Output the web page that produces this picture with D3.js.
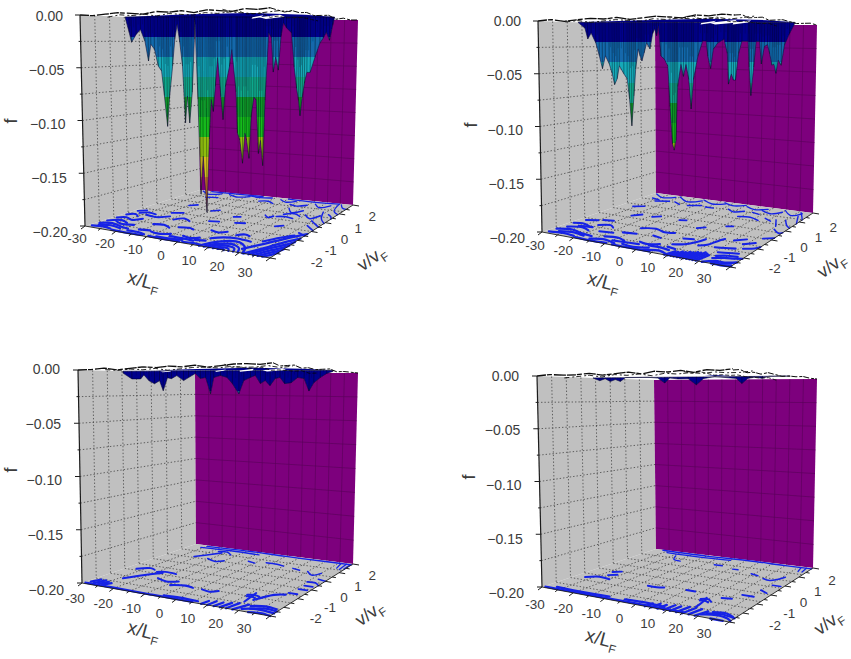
<!DOCTYPE html>
<html><head><meta charset="utf-8">
<script src="https://cdn.jsdelivr.net/npm/d3@7/dist/d3.min.js"></script>
<style>html,body{margin:0;background:#fff}svg{display:block}text{font-family:"Liberation Sans",Arial,sans-serif;fill:#3c3c3c}</style>
</head><body><svg id="c" width="851" height="659"></svg>
<script>
// ---------- axis values
const xTickLabels=[-30,-20,-10,0,10,20,30];
const vTickLabels=[-2,-1,0,1,2];
const fTickLabels=[0,-0.05,-0.10,-0.15,-0.20];
const xGrid=[-25,-20,-15,-10,-5,0,5,10,15,20,25];
const vGrid=[-2.25,-1.5,-0.75,0,0.75,1.5,2.25];
const fGrid=[-0.025,-0.05,-0.075,-0.10,-0.125,-0.15,-0.175];
const bandLevels=[0,-0.02,-0.04,-0.06,-0.08,-0.10,-0.12,-0.14,-0.16,-0.18,-0.20];
const bandColors=["#00008c","#1268ab","#14a8b8","#0ca88c","#0a9a2c","#14ba1c","#8ebe0c","#d2bc1e","#d0742c","#a04040"];

// ---------- surface silhouettes (x/LF, f)
const s1X=[-30,-29,-28.4,-27.1,-25.9,-24.7,-23.8,-23.1,-22.1,-21.1,-20.2,-19.5,-18.7,-18.1,-17.1,-16.4,-15.7,-15,-14.3,-13.6,-13,-12.4,-11.6,-10.9,-10.7,-10,-9.3,-8.6,-7.6,-6.8,-6.2,-5.6,-5,-4.3,-3.4,-2.8,-2.1,-0.9,-0.2,1,1.4,2.1,2.9,3.6,4.1,4.8,5.4,6.2,6.9,7.6,8.2,8.9,9.5,10.5,11.3,11.9,12.6,13.4,14.1,14.8,15.7,17.2,18.1,18.9,19.5,20,20.6,21.2,21.9,22.9,24.3,25.7,26.7,27.6,28.6,29.5,30];
const s1F=[-0.001,-0.016,-0.026,-0.018,-0.013,-0.025,-0.045,-0.028,-0.033,-0.05,-0.055,-0.08,-0.111,-0.083,-0.05,-0.023,-0.008,-0.026,-0.05,-0.107,-0.08,-0.107,-0.076,-0.023,-0.003,-0.083,-0.178,-0.14,-0.196,-0.123,-0.083,-0.095,-0.07,-0.041,-0.08,-0.103,-0.07,-0.05,-0.033,-0.075,-0.116,-0.123,-0.146,-0.116,-0.123,-0.141,-0.1,-0.08,-0.083,-0.136,-0.123,-0.148,-0.083,-0.016,-0.021,-0.055,-0.04,-0.053,-0.02,-0.006,-0.011,-0.016,-0.05,-0.071,-0.083,-0.098,-0.08,-0.066,-0.055,-0.055,-0.04,-0.026,-0.021,-0.015,-0.023,-0.008,-0.001];
const s2X=[-30,-28.2,-27.5,-26.6,-25.4,-24.5,-23.7,-22.9,-21.9,-21.1,-20.5,-19.8,-19.2,-18,-17.1,-16.5,-15.9,-15.3,-14.8,-14.1,-13.6,-13.1,-12.5,-11.8,-10.9,-10.2,-9.6,-9.1,-8.6,-7.9,-7,-6,-5.4,-4.7,-4.2,-3.7,-3.3,-2.4,-1.7,-1,-0.2,0.5,1.1,2.3,3.6,4.6,5.1,5.9,6.6,7.8,9.6,10.6,11,11.8,12.4,13,13.8,14.7,16.5,16.9,17.5,18.2,18.8,19.8,20.4,21.2,22.1,22.8,23.5,24.1,24.7,25.3,26.2,27.1,28.5,30];
const s2F=[0,-0.006,-0.017,-0.011,-0.021,-0.034,-0.047,-0.034,-0.042,-0.052,-0.063,-0.057,-0.044,-0.052,-0.057,-0.077,-0.104,-0.074,-0.047,-0.027,-0.034,-0.039,-0.031,-0.021,-0.027,-0.012,-0.007,-0.014,-0.004,-0.034,-0.037,-0.044,-0.084,-0.121,-0.127,-0.117,-0.064,-0.042,-0.054,-0.042,-0.057,-0.086,-0.057,-0.034,-0.019,-0.019,-0.034,-0.046,-0.027,-0.021,-0.017,-0.031,-0.061,-0.051,-0.057,-0.057,-0.031,-0.019,-0.019,-0.044,-0.072,-0.044,-0.019,-0.019,-0.041,-0.024,-0.022,-0.031,-0.042,-0.041,-0.05,-0.037,-0.042,-0.022,-0.011,-0.001];
const s3X=[-30,-27.6,-25.2,-24.3,-22.9,-21.4,-20,-19,-17.8,-16.7,-15.2,-13.3,-11.9,-10,-8.6,-7.1,-5.7,-4.8,-2.9,-1,0.5,2.4,3.8,5.7,7.1,8.6,10,11.4,12.9,14.3,15.7,17.6,19.5,21.4,22.9,24.3,26.2,28.1,30];
const s3F=[-0.002,-0.008,-0.008,-0.004,-0.01,-0.013,-0.01,-0.02,-0.007,-0.008,-0.005,-0.01,-0.007,-0.003,-0.008,-0.007,-0.023,-0.007,-0.005,-0.007,-0.013,-0.023,-0.01,-0.007,-0.005,-0.013,-0.01,-0.015,-0.008,-0.007,-0.013,-0.012,-0.007,-0.008,-0.02,-0.012,-0.007,-0.003,-0.001];
const s4X=[-30,-28,-26.4,-24.9,-23.4,-21.9,-20.3,-13.7,-10.7,-8.6,-7.1,-4.6,-1.5,1,3.1,6.6,13.2,15,16.8,18.8,21.4,23.4,30];
const s4F=[0,-0.003,-0.001,-0.004,-0.002,-0.004,0,0,-0.001,-0.006,-0.001,-0.002,-0.002,-0.008,-0.002,0,-0.002,-0.007,-0.002,-0.001,-0.002,0,0];

// ---------- top plane patches (x/LF, v/vF), holes [x, v, half width, thickness]
const top1=[[-30,-0.7],[-6,-1.5],[15,-1.5],[27,0],[30,1.4]];
const top2=[[-30,-0.95],[-6,-1.5],[15,-1.5],[27,0],[30,1.38]];
const top3=[[-20,-0.6],[-6,-1.2],[14,-1.2],[26,0],[30,1.24]];
const top4=[[8,-0.3],[12,-0.4],[14,0.2],[10,0.3]];
const holes1=[[4.6,1,1.5,1],[10,1,4.5,1.1]];
const holes2=[[0.3,1.2,2,1.2],[6.6,1.1,5,1.4],[12,1.2,2.5,1.2]];
const holes3=[[-24,0.6,1.8,0.8],[-5.5,0.6,1.2,0.9],[3.4,0.6,2.2,1],[13,0.6,4,1]];
const holes4=[];
// jagged rim of the surface: f along the v=-3 edge, and along the x=30 edge
const edgeXs=[-30,-26,-22,-18,-14,-10,-6,-2,2,6,10,14,18,22,26,30];
const edgeVs=[-3,-2.5,-2,-1.5,-1,-0.5,0,0.5,1,1.5,2,2.5,3];
const rimX1=[0,-0.001,0,0.001,0,-0.001,0.001,0,0.001,-0.001,0.001,0,-0.001,0.001,0,0.001];
const rimV1=[0.001,0,-0.001,0.001,0,0.001,-0.001,0,0.001,-0.002,0,-0.001,0];
const rimX2=[0,0.001,-0.001,0,0.001,0,0.001,-0.001,0,0.001,0,-0.001,0.001,0,0.001,0];
const rimV2=[0,0.001,-0.001,0,0.001,-0.001,0,0.001,0,-0.001,0,0.001,0];
const rimX3=[0,0,0.001,-0.001,0,0.001,0,0.001,0,0.001,-0.001,0,0.001,0.001,0,0.001];
const rimV3=[0.001,-0.001,0,0.001,-0.001,0,-0.001,0,0.001,-0.001,0,0,0];
const rimX4=[0,0.001,0,0,0.001,-0.001,0,0.001,-0.001,0.001,0,0.001,-0.001,0.001,0,0.001];
const rimV4=[0,0.001,-0.001,0,-0.001,0.001,0,-0.001,0,0,0.001,0,0];

// ---------- floor contour fragments (x/LF, v/vF)
const c1=[
[[-29,-2.8],[-26,-2.7],[-23,-2.8]],[[-29,-2.4],[-26,-2.2],[-22,-2.4],[-19,-2.5]],[[-29,-2],[-26,-1.7],[-23,-1.9]],[[-29,-1.5],[-27,-1.3],[-24,-1.5],[-22,-1.2]],[[-29,-1],[-27,-0.8],[-25,-1]],[[-29,-0.4],[-27,-0.2]],[[-24,-0.7],[-20,-0.8],[-17,-0.5]],[[-14,-0.8],[-12,-0.5],[-9,-0.7]],[[-18,-2.7],[-14,-2.7],[-12,-2.8]],[[-12,-2.4],[-9,-2.5],[-6,-2.3]],[[-8,-2.8],[-4,-2.8],[0,-2.7]],[[-2,-2.3],[1,-2.4],[3,-2.2]],
[[-28,-2.6],[-25,-2.45],[-21,-2.6]],[[-27,-1.85],[-24,-2.1],[-20,-2]],[[-22,-2.9],[-17,-2.95],[-12,-2.9]],[[-16,-2.4],[-13,-2.3]],[[-10,-2.9],[-5,-2.95],[0,-2.9]],[[-5,-2.55],[-1,-2.55],[3,-2.6]],[[1,-2.9],[4,-2.85],[7,-2.9]],[[3,-2.5],[6,-2.4]],[[-16,-1.6],[-13,-1.5],[-10,-1.7]],[[-27,-0.6],[-25,-0.4],[-22,-0.5]],
[[7,-3],[8.5,-2.5],[11,-2.15],[14,-2],[17,-2.15],[19.5,-2.5],[21,-3]],[[8.5,-3],[10,-2.6],[12,-2.4],[14,-2.3],[16,-2.4],[18,-2.6],[19.5,-3]],[[10,-3],[11,-2.7],[14,-2.55],[17,-2.7],[18,-3]],[[11.5,-3],[12.5,-2.8],[14,-2.75],[15.5,-2.8],[16.5,-3]],[[13,-3],[14,-2.9],[15,-3]],[[6,-2.1],[9,-1.8],[13,-1.7],[18,-1.8]],
[[21.5,-3],[25,-2],[28,-1.2],[30,-0.8]],[[23,-3],[26,-2.1],[28.5,-1.6],[30,-1.2]],[[24.5,-3],[27,-2.3],[29,-1.9],[30,-1.6]],[[26,-3],[28,-2.5],[29.5,-2.2],[30,-2]],[[27.5,-3],[29,-2.7],[30,-2.4]],[[19,-2.6],[22.5,-1.8],[26,-1],[30,-0.3]],[[21,-1.6],[24,-1],[27,-0.6]],
[[-8,-1.5],[-5,-1.4],[-3,-1.5]],[[2,-1.3],[5,-1.4],[7,-1.2]],[[11,-1.4],[13,-1.2],[15,-1.3]],[[0,0.4],[2,0.5]],[[8,1],[10,0.8],[11,1]],[[-10,0.7],[-8,0.9]],[[-20,1],[-18,1.2]],[[-19,-0.1],[-16,0.1]],[[-4,-0.4],[-1,-0.3]],[[4,-0.2],[7,-0.1]],[[17,0],[19,0.2]],
[[-28,2.9],[-24,2.6],[-20,2.8]],[[-22,2.2],[-18,2.3]],[[-17,2.8],[-13,2.6],[-9,2.8]],[[-10,2.9],[-5,2.8],[-1,2.9]],[[-3,2.4],[0,2.5],[3,2.3]],[[3,2.8],[6,2.6],[9,2.8]],[[11,2],[14,1.6],[17,1.9]],[[12,1],[15,1.1],[18,1]],[[17,2.7],[20,2.4],[23,2.7]],[[20,1.5],[23,1.2],[25,1.6]],[[9,2.4],[12,2.3],[15,2.5]],[[13,1.3],[16,1.5],[19,1.3]],[[-25,2.95],[-15,2.95],[-5,2.95]],[[5,2.95],[15,2.9],[25,2.95]],
[[25,2.9],[27,2.2],[30,1.9]],[[26,2.9],[28,2.6],[30,2.5]],[[24,2],[27,1.3],[30,0.9]],[[26,0.5],[28,0.3],[30,0.1]],[[27,-0.3],[30,-0.5]],[[27,1.8],[29,1.6],[30,1.4]],[[25,1],[28,0.7],[30,0.5]]
];
const c2=[
[[-29,-2.8],[-25,-2.7],[-21,-2.8]],[[-29,-2.4],[-25,-2.2],[-21,-2.4],[-17,-2.5]],[[-28,-2],[-24,-1.8],[-21,-2]],[[-29,-1.5],[-26,-1.4],[-23,-1.6]],[[-28,-1],[-25,-0.8]],[[-22,-1.3],[-19,-1.1],[-17,-1.3]],[[-16,-2.8],[-12,-2.6],[-8,-2.8]],[[-14,-2.3],[-10,-2.2],[-7,-2.4]],[[-18,-1.9],[-14,-1.8]],[[-6,-2.7],[-2,-2.8],[2,-2.6]],[[-3,-2.2],[0,-2.3],[3,-2.1]],[[2,-2.9],[6,-2.7],[9,-2.9]],[[6,-2.2],[9,-2.3]],
[[-27,-2.6],[-23,-2.45],[-19,-2.6]],[[-26,-1.7],[-22,-1.6]],[[-20,-2.9],[-15,-2.95],[-10,-2.9]],[[-10,-2.55],[-6,-2.5],[-2,-2.45]],[[-8,-2.95],[-2,-2.95],[4,-2.95]],[[1,-2.4],[5,-2.4],[8,-2.5]],[[-24,-0.7],[-21,-0.6]],[[-12,-1.6],[-8,-1.5]],
[[-10,-0.9],[-6,-0.7],[-2,-0.9],[1,-0.8]],[[-3,-1.4],[0,-1.5]],[[6,-1.2],[9,-1.1]],
[[9,-3],[10,-2.5]],[[11,-3],[12,-2.4]],[[13,-3],[14,-2.3]],[[15,-3],[16,-2.2]],[[17,-3],[18,-2.1]],[[19,-3],[20,-2.3]],[[10,-3],[11,-2.5]],[[12,-3],[13,-2.4]],[[14,-3],[15,-2.3]],[[16,-3],[17,-2.2]],[[18,-3],[19,-2.2]],
[[6,-1.9],[9,-1.7],[11,-1.3],[12,-0.9]],[[13,-1.6],[15,-1.4],[16,-0.9],[17,-0.6]],[[21,-3],[24,-2.7],[27,-2.7],[30,-2.5]],[[22,-2.5],[25,-2.3],[28,-2.2],[30,-2.1]],[[24,-3],[27,-3],[30,-2.9]],[[21,-1.9],[24,-1.8],[27,-1.7]],[[26,-1.2],[29,-1],[30,-0.8]],[[24,-0.8],[27,-0.5]],[[27,0],[30,0.2]],[[23,-2.85],[26,-2.85],[29,-2.7]],[[22,-2.25],[25,-2.05],[28,-2]],[[18,-1.5],[21,-1.4],[24,-1.3]],[[20,-0.6],[23,-0.3]],
[[-29,2.9],[-25,2.6],[-21,2.8]],[[-24,2.1],[-20,2.3]],[[-20,2.9],[-15,2.5],[-11,2.8]],[[-12,2.1],[-8,2.3]],[[-11,2.9],[-6,2.6],[-2,2.8]],[[-3,2.9],[1,2.7],[5,2.9]],[[2,2.3],[5,2.1],[8,2.3]],[[6,2.8],[10,2.6],[14,2.8]],[[9,1.7],[13,1.8],[17,1.6]],[[13,2.6],[17,2.4],[20,2.7]],[[18,1.9],[21,1.7]],[[20,2.9],[24,2.5],[27,2.8]],[[25,2],[28,1.5],[30,1.3]],[[26,2.9],[29,2.4],[30,2.2]],[[26,1],[29,0.7],[30,0.8]],[[-27,2.4],[-24,2.3]],[[-18,2.3],[-15,2.1]],[[-6,2.2],[-3,2.2]],[[11,2.3],[14,2.2]],[[22,1.9],[25,1.3]],[[27,2.5],[30,1.8]],
[[-5,0.5],[-3,0.6]],[[4,0],[6,0.2]],[[-14,0.4],[-12,0.6]],[[-20,0.2],[-18,0.5]],[[-26,1.2],[-23,1.4]],[[11,0.6],[13,0.7]]
];
const c3=[
[[-29.5,-2.9],[-20,-2.9],[-8,-2.95],[5,-2.95]],[[-29,-2.7],[-28,-2.3]],[[-27.5,-2.8],[-26.5,-2.3]],[[-26,-2.8],[-25,-2.4]],[[-24.5,-2.8],[-23.5,-2.5]],[[-5,-2.8],[0,-2.75],[6,-2.8]],
[[-24,-1.8],[-21,-1.1],[-18,-0.6]],[[-27,-0.6],[-24,-0.3],[-22,-0.4]],[[-16,-1.2],[-12,-1.4],[-9,-1.2]],[[-9,-1.7],[-5,-1.5],[-2,-1.6]],[[1,-1.6],[4,-1.7],[6,-1.5]],[[-20,-0.6],[-18,-0.45],[-14,-0.5]],
[[8,-3],[8.5,-2.6]],[[10,-3],[10.5,-2.5]],[[12,-3],[12.7,-2.5]],[[14,-3],[15,-2.4]],[[16,-3],[17,-2.3]],[[18,-3],[20,-2.3]],[[20,-2.8],[23,-2.6],[26,-2.6],[30,-2.7]],[[21,-2.4],[25,-2.2],[29,-2.3]],[[23,-3],[27,-2.9],[30,-3]],[[22,-2.65],[26,-2.4],[30,-2.5]],
[[15,-1.4],[17,-1.3],[19,-1.4]],[[15.5,-1.55],[17,-1.5],[18.5,-1.6]],[[16.5,-1.1],[17,-1.6],[17.5,-2.1]],[[19,-1.8],[22,-1],[25,-0.8]],[[25,-0.6],[28,-0.6]],[[26,-0.1],[29,-0.1]],[[25,0.7],[28,0.7],[30,0.5]],[[27,1.1],[30,1]],[[26,0.3],[29,0.3]],
[[-21,1.6],[-19,1.9],[-16,2.4]],[[-16,1.6],[-12,1.4],[-10,1.6]],[[-3,1.9],[0,1.8]],[[3,2],[7,2],[10,1.9]],[[14,1.8],[17,1.7]],[[20,1.7],[23,1.4],[25,1.7]],[[-25,2.9],[-10,2.95],[5,2.9],[20,2.9],[30,2.9]],[[26,2.9],[27,2.4]],[[28,2.9],[28.5,2.3]],[[29.5,2.9],[29.7,2.4]],[[-26,2.7],[-15,2.75],[-4,2.7]],[[-18,2.5],[-15,2.55],[-12,2.3]]
];
const c4=[
[[-29.5,-2.9],[-22,-2.9],[-12,-2.9],[0,-2.9],[15,-2.9]],[[-27,-2.7],[-20,-2.75],[-10,-2.7]],[[-5,-2.7],[2,-2.65],[8,-2.75]],
[[3,-3],[3.5,-2.6]],[[5,-3],[5.5,-2.5]],[[7,-3],[7.5,-2.5]],[[9,-3],[9.7,-2.4]],[[11,-3],[11.7,-2.4]],[[13,-3],[14,-2.3]],[[15,-3],[16,-2.3]],[[17,-3],[18,-2.3]],[[19,-3],[20.5,-2.4]],[[20,-2.8],[24,-2.6],[28,-2.7],[30,-2.9]],[[22,-2.4],[26,-2.3],[29,-2.5]],[[24,-3],[28,-3]],[[21,-2.6],[25,-2.45],[30,-2.6]],
[[13,-1.4],[15,-1.3],[17,-1.5]],[[13.5,-1.55],[15,-1.5],[16.5,-1.6]],[[14,-1.2],[15,-1.7],[15.5,-2.2]],[[-27,-1.2],[-24,-0.9],[-20,-1]],[[-24,-0.2],[-22,0]],[[-23,-0.6],[-21,-0.4]],[[-7,-1],[-4,-1],[-2,-0.9]],[[5,-0.8],[8,-0.8]],
[[18,-1],[21,-0.9]],[[22,-0.4],[26,-0.4]],[[25,0.3],[28,0.1]],[[26,0.9],[29,0.9]],
[[-19,2.5],[-17,2.1],[-14,2]],[[-2,2.1],[1,2.1]],[[6,1.9],[8,1.9]],[[14,1.7],[17,1.6]],[[20,1.4],[23,1.3],[26,1.8]],
[[-27,2.95],[-10,2.9],[5,2.95],[20,2.9],[30,2.9]],[[26,2.9],[27,2.5]],[[28,2.9],[28.5,2.5]],[[-24,2.75],[-12,2.7],[0,2.75]]
];

// ---------- layout of each panel (screen geometry; not data)
const panels=[
 {lt:[80,15],ft:[270,9],rt:[358,20],bt:[198,20],lb:[85,226],fb:[270,258],rb:[353,205],bb:[200,190],
  sx:s1X,sf:s1F,sv:[-0.7,1.4],top:top1,holes:holes1,rimX:rimX1,rimV:rimV1,floor:c1,
  xOff:[[-8,12],[-25,14]],vOff:[[33,13],[33,3]],fOffX:-17,fOffY:[1,6],xT:[142,287],vT:[375,263],fT:[17,121]},
 {lt:[538,21],ft:[735,15],rt:[817,25],bt:[655,25],lb:[542,232],fb:[730,267],rb:[813,213],bb:[656,193],
  sx:s2X,sf:s2F,sv:[-0.95,1.38],top:top2,holes:holes2,rimX:rimX2,rimV:rimV2,floor:c2,
  xOff:[[-7,13],[-26,11]],vOff:[[31,10],[34,5]],fOffX:-17,fOffY:[0,6],xT:[602,288],vT:[835,270],fT:[477,125]},
 {lt:[78,370],ft:[273,364],rt:[358,373],bt:[195,373],lb:[82,583],fb:[270,616],rb:[353,564],bb:[196,544],
  sx:s3X,sf:s3F,sv:[-0.69,1.24],top:top3,holes:holes3,rimX:rimX3,rimV:rimV3,floor:c3,
  xOff:[[-7,15],[-26,12]],vOff:[[32,11],[33,3]],fOffX:-18,fOffY:[-1,7],xT:[142,637],vT:[373,618],fT:[17,470]},
 {lt:[537,376],ft:[733,370],rt:[817,379],bt:[654,380],lb:[542,587],fb:[729,622],rb:[813,568],bb:[656,549],
  sx:s4X,sf:s4F,sv:[-0.13,1.07],top:top4,holes:holes4,rimX:rimX4,rimV:rimV4,floor:c4,
  xOff:[[-7,17],[-25,11]],vOff:[[32,12],[33,3]],fOffX:-18,fOffY:[0,6],xT:[600,645],vT:[832,627],fT:[475,477]}
];

const svg=d3.select("#c");
const defs=svg.append("defs");
defs.append("filter").attr("id","soft").attr("x","-5%").attr("y","-5%").attr("width","110%").attr("height","110%")
  .append("feGaussianBlur").attr("stdDeviation",0.5);

const uS=d3.scaleLinear().domain([-30,30]).range([0,1]);
const wS=d3.scaleLinear().domain([-3,3]).range([0,1]);
const tS=d3.scaleLinear().domain([0,-0.2]).range([0,1]);
const lerp=(a,b,t)=>[a[0]+(b[0]-a[0])*t,a[1]+(b[1]-a[1])*t];

panels.forEach((P,pi)=>{
  const bil=(a,b,c,d,u,w)=>lerp(lerp(a,b,u),lerp(d,c,u),w);
  const proj=(x,v,f)=>{
    const u=uS(x),w=wS(v),t=tS(f);
    return lerp(bil(P.lt,P.ft,P.rt,P.bt,u,w),bil(P.lb,P.fb,P.rb,P.bb,u,w),t);
  };
  const poly=pts=>"M"+pts.map(p=>p[0].toFixed(2)+","+p[1].toFixed(2)).join("L");
  const root=svg.append("g").attr("filter","url(#soft)");

  // walls and floor
  root.append("path").attr("d",poly([proj(-30,-3,0),proj(-30,3,0),proj(-30,3,-0.2),proj(-30,-3,-0.2)])+"Z").attr("fill","#c0c0c0");
  root.append("path").attr("d",poly([proj(-30,3,0),proj(30,3,0),proj(30,3,-0.2),proj(-30,3,-0.2)])+"Z").attr("fill","#7d007d");
  root.append("path").attr("d",poly([proj(-30,-3,-0.2),proj(30,-3,-0.2),proj(30,3,-0.2),proj(-30,3,-0.2)])+"Z").attr("fill","#c0c0c0");

  // grids
  const dot=(pts)=>root.append("path").attr("d",poly(pts)).attr("fill","none").attr("stroke","#444").attr("stroke-width",0.8).attr("stroke-dasharray","1.4 2");
  const pur=(pts)=>root.append("path").attr("d",poly(pts)).attr("fill","none").attr("stroke","#5a005a").attr("stroke-width",0.8).attr("opacity",0.8);
  vGrid.forEach(v=>{dot([proj(-30,v,0),proj(-30,v,-0.2)]);dot([proj(-30,v,-0.2),proj(30,v,-0.2)]);});
  xGrid.forEach(x=>{pur([proj(x,3,0),proj(x,3,-0.2)]);dot([proj(x,-3,-0.2),proj(x,3,-0.2)]);});
  fGrid.forEach(f=>{dot([proj(-30,-3,f),proj(-30,3,f)]);pur([proj(-30,3,f),proj(30,3,f)]);});

  // contours projected on the floor
  root.append("g").selectAll("path").data(P.floor).join("path")
    .attr("d",d=>d3.line().curve(d3.curveCatmullRom)(d.map(q=>proj(q[0],q[1],-0.2))))
    .attr("fill","none").attr("stroke","#1422e6").attr("stroke-linecap","round")
    .attr("stroke-width",d=>2.3-1*wS(d[0][1]));

  // surface silhouette, coloured in bands of f
  const sV=d3.scaleLinear().domain([-30,30]).range(P.sv);
  const y0=proj(0,sV(0),0)[1],y1=proj(0,sV(0),-0.2)[1];
  const gid="bands"+pi;
  const g=defs.append("linearGradient").attr("id",gid).attr("gradientUnits","userSpaceOnUse")
    .attr("x1",0).attr("x2",0).attr("y1",y0).attr("y2",y1);
  bandColors.forEach((c,i)=>{
    g.append("stop").attr("offset",tS(bandLevels[i])).attr("stop-color",c);
    g.append("stop").attr("offset",tS(bandLevels[i+1])).attr("stop-color",c);
  });
  const verts=P.sx.map((x,i)=>proj(x,sV(x),P.sf[i]));
  const topEdge=[proj(30,sV(30),0),proj(-30,sV(-30),0)];
  root.append("path").attr("d",poly(P.top.map(q=>proj(q[0],q[1],0)))+"Z").attr("fill","#00008c");
  root.append("path").attr("d",poly(verts.concat(topEdge))+"Z").attr("fill",`url(#${gid})`)
     .attr("stroke","#10103a").attr("stroke-width",0.6);
  // mesh streaks: a line down every silhouette vertex and a shorter one beside it
  root.append("g").selectAll("path").data(P.sx).join("path")
     .attr("d",(x,i)=>poly([proj(x,sV(x),0),proj(x,sV(x),P.sf[i])]))
     .attr("stroke","#000").attr("stroke-width",0.9).attr("opacity",0.38);
  root.append("g").selectAll("path").data(P.sx.slice(0,-1)).join("path")
     .attr("d",(x,i)=>{const m=(x+P.sx[i+1])/2;return poly([proj(m,sV(m),0),proj(m,sV(m),Math.max(P.sf[i],P.sf[i+1])*0.6)]);})
     .attr("stroke","#00002a").attr("stroke-width",0.8).attr("opacity",0.25);

  // holes in the top sheet
  root.append("g").selectAll("path").data(P.holes).join("path")
    .attr("d",h=>poly([[h[0]-h[2],h[1]],[h[0]-8.6*h[3],h[1]+1.1*h[3]],[h[0]+h[2],h[1]],[h[0]+8.6*h[3],h[1]-1.1*h[3]]].map(q=>proj(q[0],q[1],0)))+"Z")
    .attr("fill","#fff");

  // jagged rims
  const rim=(pts,w,da)=>root.append("path").attr("d",poly(pts)).attr("fill","none").attr("stroke","#0a0a0a").attr("stroke-width",w).attr("stroke-dasharray",da);
  rim(edgeXs.map((x,i)=>proj(x,-3,P.rimX[i])),1.3,"9 1 5 2 12 1");
  rim(edgeVs.map((v,i)=>proj(30,v,P.rimV[i])),1,"6 2 3 1");
  rim(edgeXs.map((x,i)=>proj(x,-1.6,P.rimX[(i+5)%16])),0.9,"5 3 2 2");
  rim(edgeVs.map((v,i)=>proj(15,v,P.rimV[(i+3)%13])),0.8,"4 2");

  // axes
  const ax=(a,b,w)=>root.append("path").attr("d",poly([a,b])).attr("stroke","#1c1c1c").attr("stroke-width",w).attr("fill","none");
  ax(proj(-30,-3,0),proj(-30,-3,-0.2),1.2);
  ax(proj(-30,-3,-0.2),proj(30,-3,-0.2),0.9);
  ax(proj(30,-3,-0.2),proj(30,3,-0.2),0.9);
  [0].concat(fGrid,[-0.2]).forEach((f,i)=>{const p=proj(-30,-3,f);ax([p[0]-(i%2?2:5),p[1]],p,1);});
  [-30,-25].concat(xGrid.slice(1),[30]).forEach((x,i)=>{const p=proj(x,-3,-0.2);const k=i%2?0.6:1;ax(p,[p[0]-4*k,p[1]+3*k],1);});
  [-3,-2.5,-2,-1.5,-1,-0.5,0,0.5,1,1.5,2,2.5,3].forEach((v,i)=>{const p=proj(30,v,-0.2);const k=i%2?0.6:1;ax(p,[p[0]+6*k,p[1]+1*k],1);});

  // labels
  const T=svg.append("g");
  const xo=d3.scaleLinear().domain([-30,30]).range([0,1]);
  xTickLabels.forEach(x=>{
    const p=proj(x,-3,-0.2),o=lerp(P.xOff[0],P.xOff[1],xo(x));
    T.append("text").attr("x",p[0]+o[0]).attr("y",p[1]+o[1]+4.5).attr("text-anchor","middle").attr("font-size",13.5).text(x);
  });
  const vo=d3.scaleLinear().domain([-2,2]).range([0,1]);
  vTickLabels.forEach(v=>{
    const p=proj(30,v,-0.2),o=lerp(P.vOff[0],P.vOff[1],vo(v));
    T.append("text").attr("x",p[0]+o[0]).attr("y",p[1]+o[1]+4.5).attr("text-anchor","middle").attr("font-size",13.5).text(v);
  });
  const fo=d3.scaleLinear().domain([0,-0.2]).range(P.fOffY);
  fTickLabels.forEach(f=>{
    const p=proj(-30,-3,f);
    T.append("text").attr("x",p[0]+P.fOffX).attr("y",p[1]+fo(f)+5).attr("text-anchor","end").attr("font-size",14).text(d3.format(".2f")(f));
  });
  const tx=T.append("text").attr("transform",`translate(${P.xT[0]},${P.xT[1]}) rotate(15)`).attr("text-anchor","middle").attr("font-size",19).text("x/L");
  tx.append("tspan").attr("dy",5).attr("font-size",12).text("F");
  const tv=T.append("text").attr("transform",`translate(${P.vT[0]},${P.vT[1]}) rotate(-35)`).attr("text-anchor","middle").attr("font-size",18).text("v/v");
  tv.append("tspan").attr("dy",5).attr("font-size",12).text("F");
  T.append("text").attr("transform",`translate(${P.fT[0]},${P.fT[1]}) rotate(-90)`).attr("text-anchor","middle").attr("font-size",18).text("f");
});
</script></body></html>
